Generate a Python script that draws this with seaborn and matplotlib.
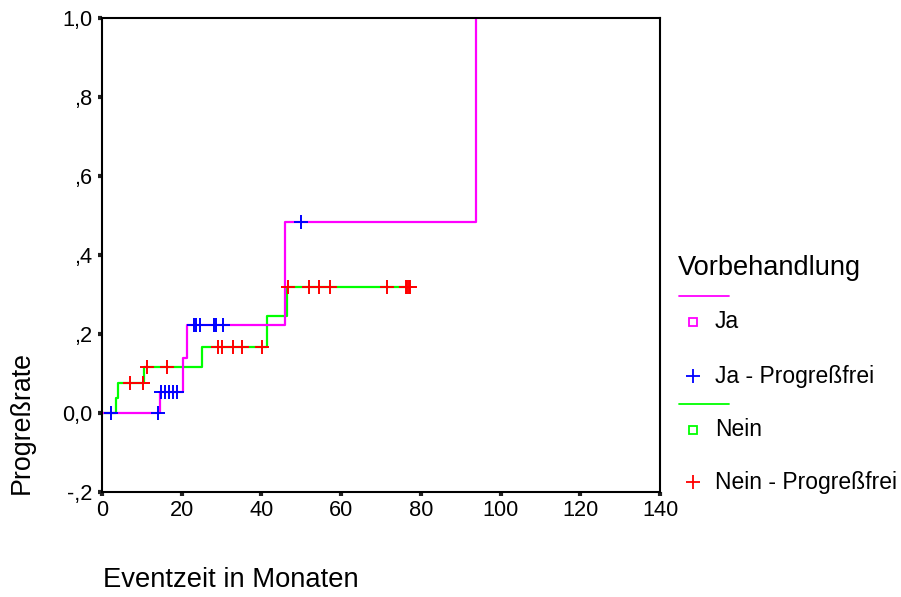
import matplotlib
matplotlib.use("Agg")
import matplotlib.pyplot as plt
import seaborn as sns
from matplotlib.lines import Line2D

# ---------------- data ----------------
ja_times = [0.0, 14.5, 20.2, 21.4, 45.9, 93.8]
ja_rate = [0.0, 0.053, 0.139, 0.223, 0.484, 1.0]
ja_cens_times = [2.3, 14.1, 14.8, 15.8, 16.8, 17.7, 18.7,
                 23.0, 23.6, 24.6, 28.0, 28.6, 30.4, 49.9]
ja_cens_rate = [0.0, 0.0, 0.053, 0.053, 0.053, 0.053, 0.053,
                0.223, 0.223, 0.223, 0.223, 0.223, 0.223, 0.484]

nein_times = [0.0, 3.6, 3.9, 10.6, 25.1, 41.5, 46.3, 77.3]
nein_rate = [0.0, 0.038, 0.075, 0.117, 0.168, 0.245, 0.318, 0.318]
nein_cens_times = [7.0, 10.3, 11.3, 16.3, 29.1, 30.1, 32.9, 35.1, 40.1,
                   46.7, 51.9, 54.4, 57.2, 71.5, 76.3, 76.6, 77.0, 77.3]
nein_cens_rate = [0.075, 0.075, 0.117, 0.117, 0.168, 0.168, 0.168, 0.168, 0.168,
                  0.318, 0.318, 0.318, 0.318, 0.318, 0.318, 0.318, 0.318, 0.318]

x_ticks = [0, 20, 40, 60, 80, 100, 120, 140]
y_ticks = [-0.2, 0.0, 0.2, 0.4, 0.6, 0.8, 1.0]
y_tick_labels = ["-,2", "0,0", ",2", ",4", ",6", ",8", "1,0"]

legend_title = "Vorbehandlung"
legend_labels = ["Ja", "Ja - Progreßfrei", "Nein", "Nein - Progreßfrei"]
x_label = "Eventzeit in Monaten"
y_label = "Progreßrate"

C_JA = "#FF00FF"
C_JA_C = "#0000FF"
C_NEIN = "#00FF00"
C_NEIN_C = "#FF0000"

# ---------------- style ----------------
sns.set_style("white")
plt.rcParams["font.family"] = ["Liberation Sans", "DejaVu Sans"]
plt.rcParams["text.color"] = "black"
plt.rcParams["xtick.color"] = "black"
plt.rcParams["ytick.color"] = "black"

W, H = 901, 597
fig = plt.figure(figsize=(W / 100, H / 100), dpi=100)
ax = fig.add_axes([102 / W, 1 - 492 / H, (660 - 102) / W, (492 - 18) / H])

sns.lineplot(x=nein_times, y=nein_rate, drawstyle="steps-post", color=C_NEIN,
             linewidth=1.6, estimator=None, sort=False, ax=ax)
sns.lineplot(x=ja_times, y=ja_rate, drawstyle="steps-post", color=C_JA,
             linewidth=1.6, estimator=None, sort=False, ax=ax)
sns.scatterplot(x=ja_cens_times, y=ja_cens_rate, marker="+", s=110,
                color=C_JA_C, linewidth=1.4, ax=ax, zorder=4)
sns.scatterplot(x=nein_cens_times, y=nein_cens_rate, marker="+", s=110,
                color=C_NEIN_C, linewidth=1.4, ax=ax, zorder=4)

ax.set_xlim(0, 140)
ax.set_ylim(-0.2, 1.0)
ax.set_xticks(x_ticks)
ax.set_xticklabels([str(v) for v in x_ticks])
ax.set_yticks(y_ticks)
ax.set_yticklabels(y_tick_labels)
ax.set_xlabel("")
ax.set_ylabel("")
for sp in ax.spines.values():
    sp.set_visible(True)
    sp.set_color("black")
    sp.set_linewidth(1.5)
ax.tick_params(axis="both", direction="out", length=3, width=3, color="#222222",
               labelsize=15.7, labelcolor="black", pad=4)
ax.tick_params(axis="x", bottom=True, pad=3)
ax.tick_params(axis="y", left=True)
ax.grid(False)

def fx(px):
    return px / W

def fy(py):
    return 1 - py / H

fig.text(fx(22), fy(423), y_label, rotation=90, ha="center", va="center",
         fontsize=19.3, color="black")
fig.text(fx(103), fy(580), x_label, ha="left", va="center", fontsize=19.7, color="black")

# ---------------- legend ----------------
fig.text(fx(678), fy(268), legend_title, ha="left", va="center", fontsize=19.6, color="black")
for y_line, col_line, y_sq, col_sq, y_plus, col_plus, lab1, lab2 in [
    (296, C_JA, 322, C_JA, 376, C_JA_C, legend_labels[0], legend_labels[1]),
    (404, C_NEIN, 430, C_NEIN, 482, C_NEIN_C, legend_labels[2], legend_labels[3]),
]:
    fig.add_artist(Line2D([fx(679), fx(729)], [fy(y_line), fy(y_line)],
                          transform=fig.transFigure, color=col_line, linewidth=1.3))
    fig.add_artist(Line2D([fx(693)], [fy(y_sq)], transform=fig.transFigure,
                          marker="s", markersize=5.5, markerfacecolor="none",
                          markeredgecolor=col_sq, markeredgewidth=1.3, linestyle="none"))
    fig.text(fx(715), fy(y_sq), lab1, ha="left", va="center", fontsize=16.5, color="black")
    fig.add_artist(Line2D([fx(693)], [fy(y_plus)], transform=fig.transFigure,
                          marker="+", markersize=10, markeredgecolor=col_plus,
                          markeredgewidth=1.3, linestyle="none"))
    fig.text(fx(715), fy(y_plus), lab2, ha="left", va="center", fontsize=16.5, color="black")

fig.savefig("out.png", dpi=100, facecolor="white")
